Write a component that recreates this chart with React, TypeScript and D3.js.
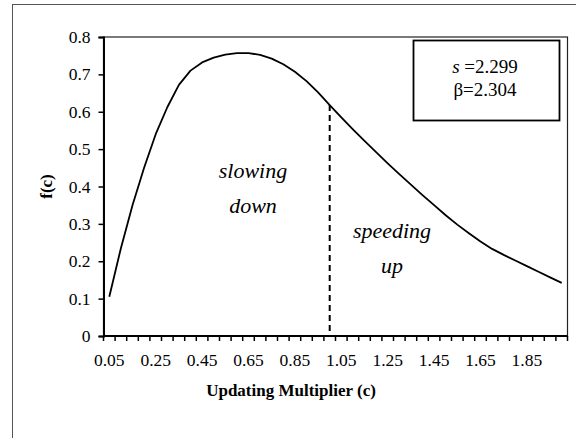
import React, { useEffect, useRef } from 'react';
import * as d3 from 'd3';

// updating multiplier categories (0.05 .. 2.00)
const categories: string[] = [
  '0.05', '0.10', '0.15', '0.20', '0.25', '0.30', '0.35', '0.40', '0.45', '0.50',
  '0.55', '0.60', '0.65', '0.70', '0.75', '0.80', '0.85', '0.90', '0.95', '1.00',
  '1.05', '1.10', '1.15', '1.20', '1.25', '1.30', '1.35', '1.40', '1.45', '1.50',
  '1.55', '1.60', '1.65', '1.70', '1.75', '1.80', '1.85', '1.90', '1.95', '2.00',
];

// f(c)
const fValues: number[] = [
  0.105, 0.235, 0.35, 0.45, 0.54, 0.612, 0.672, 0.71, 0.732, 0.745,
  0.753, 0.757, 0.757, 0.752, 0.742, 0.727, 0.707, 0.682, 0.652, 0.618,
  0.585, 0.553, 0.522, 0.492, 0.462, 0.433, 0.405, 0.377, 0.35, 0.323,
  0.298, 0.275, 0.253, 0.233, 0.217, 0.202, 0.187, 0.172, 0.157, 0.142,
];

const yTicks: number[] = [0, 0.1, 0.2, 0.3, 0.4, 0.5, 0.6, 0.7, 0.8];
const xTickLabels: string[] = ['0.05', '0.25', '0.45', '0.65', '0.85', '1.05', '1.25', '1.45', '1.65', '1.85'];
const splitAt = '1.00';

function App() {
  const svgRef = useRef<SVGSVGElement>(null);

  useEffect(() => {
    const svg = d3.select(svgRef.current);
    svg.selectAll('*').remove();

    const left = 103.5, right = 567.5, top = 37, bottom = 336;
    const font = '"Liberation Serif", "Times New Roman", serif';

    const x = d3.scaleBand<string>().domain(categories).range([left, right]).padding(0);
    const y = d3.scaleLinear().domain([0, 0.8]).range([bottom, top]);
    const cx = (c: string) => (x(c) as number) + x.bandwidth() / 2;

    // outer chart frame
    svg.append('rect')
      .attr('x', 12.5).attr('y', 4.5).attr('width', 620).attr('height', 500)
      .attr('fill', 'none').attr('stroke', '#555').attr('stroke-width', 1);

    // plot area border
    svg.append('rect')
      .attr('x', left).attr('y', top).attr('width', right - left).attr('height', bottom - top)
      .attr('fill', 'none').attr('stroke', '#222').attr('stroke-width', 1.2);

    // y axis
    const yAxis = svg.append('g')
      .attr('transform', `translate(${left},0)`)
      .call(d3.axisLeft(y).tickValues(yTicks).tickSize(5).tickPadding(8)
        .tickFormat(d => (d === 0 ? '0' : d3.format('.1f')(d as number))));
    yAxis.select('.domain').attr('stroke', '#000').attr('stroke-width', 2);
    yAxis.selectAll('.tick line').attr('stroke', '#000').attr('stroke-width', 1.5);
    yAxis.selectAll('text').attr('font-family', font).attr('font-size', 17.5).attr('fill', '#000');

    // x axis line + ticks at band edges
    svg.append('line')
      .attr('x1', left).attr('x2', right).attr('y1', bottom).attr('y2', bottom)
      .attr('stroke', '#000').attr('stroke-width', 2.2);
    const edges = categories.map(c => x(c) as number).concat([right]);
    svg.selectAll('.xtick')
      .data(edges)
      .enter().append('line')
      .attr('class', 'xtick')
      .attr('x1', d => d).attr('x2', d => d)
      .attr('y1', bottom).attr('y2', bottom + 5)
      .attr('stroke', '#000').attr('stroke-width', 1.5);

    svg.selectAll('.xlabel')
      .data(xTickLabels)
      .enter().append('text')
      .attr('class', 'xlabel')
      .attr('x', d => cx(d))
      .attr('y', 366)
      .attr('text-anchor', 'middle')
      .attr('font-family', font).attr('font-size', 17.5)
      .text(d => d);

    // axis titles
    svg.append('text')
      .attr('x', 291).attr('y', 396)
      .attr('text-anchor', 'middle')
      .attr('font-family', font).attr('font-size', 17).attr('font-weight', 'bold')
      .text('Updating Multiplier (c)');
    svg.append('text')
      .attr('transform', `translate(52,${(top + bottom) / 2}) rotate(-90)`)
      .attr('text-anchor', 'middle')
      .attr('font-family', font).attr('font-size', 17).attr('font-weight', 'bold')
      .text('f(c)');

    // dashed divider at c = 1.00
    const split = fValues[categories.indexOf(splitAt)];
    svg.append('line')
      .attr('x1', cx(splitAt)).attr('x2', cx(splitAt))
      .attr('y1', y(split)).attr('y2', bottom)
      .attr('stroke', '#000').attr('stroke-width', 2)
      .attr('stroke-dasharray', '6,4');

    // curve (straight segments, like the original line chart)
    const line = d3.line<number>()
      .x((_, i) => cx(categories[i]))
      .y(d => y(d));
    svg.append('path')
      .datum(fValues)
      .attr('d', line)
      .attr('fill', 'none').attr('stroke', '#000').attr('stroke-width', 1.8)
      .attr('stroke-linejoin', 'round');

    // region labels
    const region = (lines: string[], px: number, py: number) => {
      lines.forEach((t, i) => {
        svg.append('text')
          .attr('x', px).attr('y', py + i * 35)
          .attr('text-anchor', 'middle')
          .attr('font-family', font).attr('font-size', 22).attr('font-style', 'italic')
          .text(t);
      });
    };
    region(['slowing', 'down'], 253, 178);
    region(['speeding', 'up'], 392, 238);

    // parameter box
    svg.append('rect')
      .attr('x', 413.5).attr('y', 40.5).attr('width', 146).attr('height', 80)
      .attr('fill', '#fff').attr('stroke', '#000').attr('stroke-width', 1.8);
    const s = svg.append('text')
      .attr('x', 485).attr('y', 73)
      .attr('text-anchor', 'middle')
      .attr('font-family', font).attr('font-size', 19);
    s.append('tspan').attr('font-style', 'italic').text('s');
    s.append('tspan').text(' =2.299');
    svg.append('text')
      .attr('x', 485).attr('y', 96)
      .attr('text-anchor', 'middle')
      .attr('font-family', font).attr('font-size', 19)
      .text('β=2.304');
  }, []);

  return (
    <svg ref={svgRef} width={576} height={438}
      style={{ position: 'absolute', left: 0, top: 0, background: '#fff' }} />
  );
}

export default App;
